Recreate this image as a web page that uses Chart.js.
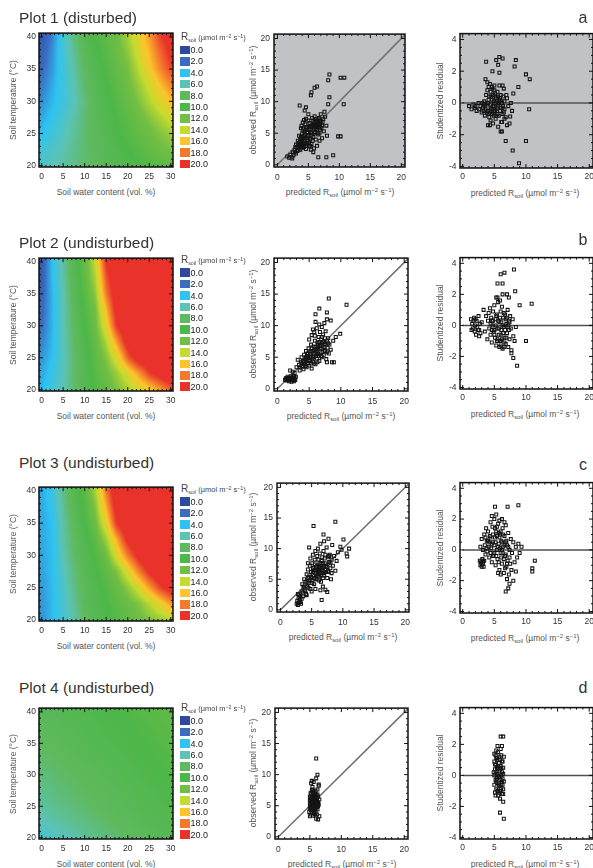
<!DOCTYPE html>
<html>
<head>
<meta charset="utf-8">
<title>Soil respiration model plots</title>
<script src="https://cdn.jsdelivr.net/npm/chart.js@4.4.1/dist/chart.umd.min.js"></script>
<style>
  html, body { margin: 0; padding: 0; }
  body { width: 593px; height: 868px; overflow: hidden; position: relative; background: #fff;
         font-family: "Liberation Sans", Arial, Helvetica, sans-serif; }
  canvas { position: absolute; }
  .txt { position: absolute; white-space: nowrap; line-height: 1; color: #555; font-size: 8.5px;
         transform: translate(-50%, -50%); }
  .rot { width: 150px; height: 10px; line-height: 10px; text-align: center; margin-left: -75px; margin-top: -5px;
         transform: rotate(-90deg); }
  .title { position: absolute; font-size: 15.5px; color: #333; line-height: 1; white-space: nowrap; transform: translateY(-50%); }
  .letter { position: absolute; font-size: 16px; color: #333; line-height: 1; transform: translate(-50%, -50%); }
  sub { font-size: 70%; vertical-align: -0.35em; line-height: 0; }
  .sw { position: absolute; width: 9.5px; height: 8.5px; }
  .lv { position: absolute; font-size: 9px; color: #222; line-height: 1; transform: translateY(-50%); }
  .lt { position: absolute; font-size: 7.5px; color: #444; white-space: nowrap; line-height: 1; transform: translateY(-50%); }
</style>
</head>
<body>
<script>
// ---- data ----
const plotTitles = ['Plot 1 (disturbed)', 'Plot 2 (undisturbed)', 'Plot 3 (undisturbed)', 'Plot 4 (undisturbed)'];
const panelLetters = ['a', 'b', 'c', 'd'];

// colour bar of the model surfaces
const levels = [0, 2, 4, 6, 8, 10, 12, 14, 16, 18, 20];
const levelLabels = ['0.0', '2.0', '4.0', '6.0', '8.0', '10.0', '12.0', '14.0', '16.0', '18.0', '20.0'];
const levelColors = ['#2d4a9c', '#3a6cc0', '#2ec3f2', '#5cc3b5', '#5fb95e', '#4db749',
                     '#73be44', '#c7db2f', '#fdc42b', '#f37a2c', '#e9322a'];

// model surface: soil water content (columns) x soil temperature (rows, 40 -> 20 degC)
const heatX = [0, 2.5, 5, 7.5, 10, 12.5, 15, 17.5, 20, 22.5, 25, 27.5, 30];
const heatT = [40, 37.5, 35, 32.5, 30, 27.5, 25, 22.5, 20];
const heat1 = [
  [1.0, 2.5, 5.0, 7.2, 8.9, 10.2, 10.9, 11.7, 13.2, 15.0, 17.0, 19.5, 21.0],
  [1.4, 2.9, 4.8, 6.7, 8.4, 9.7, 10.6, 11.5, 12.6, 14.4, 16.3, 18.4, 20.4],
  [1.8, 3.1, 4.7, 6.3, 8.0, 9.25, 10.3, 11.2, 12.0, 13.7, 15.6, 17.6, 19.3],
  [2.3, 3.45, 4.7, 6.0, 7.7, 8.9, 10.0, 10.8, 11.7, 12.9, 14.3, 16.0, 17.7],
  [2.8, 3.7, 4.7, 5.8, 7.3, 8.6, 9.6, 10.5, 11.3, 12.25, 13.5, 14.75, 16.0],
  [3.4, 4.2, 5.2, 6.25, 7.5, 8.5, 9.3, 10.1, 10.9, 11.6, 12.4, 13.4, 14.4],
  [3.9, 4.7, 5.6, 6.6, 7.6, 8.4, 9.1, 9.9, 10.5, 11.1, 11.75, 12.4, 13.0],
  [4.8, 5.5, 6.1, 6.9, 7.6, 8.2, 8.8, 9.4, 10.0, 10.6, 11.1, 11.7, 12.1],
  [5.5, 5.9, 6.4, 7.0, 7.6, 8.1, 8.6, 9.1, 9.6, 10.1, 10.4, 10.7, 11.0]
];
const heat2 = [
  [1.0, 4.0, 6.5, 9.0, 11.2, 14.0, 20.0, 22, 22, 22, 22, 22, 22],
  [1.2, 3.9, 6.3, 8.8, 11.0, 13.4, 19.0, 22, 22, 22, 22, 22, 22],
  [1.5, 3.7, 6.0, 8.5, 10.7, 12.7, 18.0, 21.5, 22, 22, 22, 22, 22],
  [1.7, 3.7, 6.0, 8.3, 10.3, 12.0, 16.3, 21.0, 22, 22, 22, 22, 22],
  [2.0, 3.7, 6.0, 8.0, 10.0, 11.7, 15.0, 20.0, 22, 22, 22, 22, 22],
  [2.5, 3.8, 5.8, 7.8, 9.6, 11.3, 13.4, 17.2, 21.0, 22, 22, 22, 22],
  [3.0, 4.0, 5.7, 7.6, 9.3, 10.9, 12.4, 14.7, 18.7, 21.2, 22, 22, 22],
  [3.4, 4.4, 5.9, 7.6, 9.1, 10.5, 11.7, 13.0, 14.7, 17.0, 19.5, 21.0, 22],
  [3.8, 4.8, 6.0, 7.7, 9.0, 10.2, 11.2, 12.2, 13.2, 14.3, 15.5, 17.0, 18.7]
];
const heat3 = [
  [3.4, 4.5, 7.0, 9.0, 10.8, 13.3, 18.0, 22, 22, 22, 22, 22, 22],
  [3.4, 4.3, 6.7, 8.7, 10.4, 12.4, 16.6, 21.1, 22, 22, 22, 22, 22],
  [3.4, 4.0, 6.4, 8.3, 10.0, 11.7, 15.0, 20.0, 22, 22, 22, 22, 22],
  [3.35, 3.95, 6.2, 8.0, 9.4, 10.9, 13.1, 16.8, 20.6, 22, 22, 22, 22],
  [3.3, 3.9, 6.0, 7.7, 9.0, 10.3, 11.7, 14.7, 18.0, 20.7, 22, 22, 22],
  [3.2, 3.9, 5.6, 7.3, 8.7, 9.8, 11.0, 12.3, 14.8, 17.7, 20.4, 22, 22],
  [3.1, 3.85, 5.3, 7.0, 8.4, 9.4, 10.4, 11.4, 12.7, 14.5, 17.0, 19.5, 21.0],
  [2.95, 3.8, 5.1, 6.7, 8.2, 9.1, 10.0, 10.8, 11.5, 12.4, 13.6, 15.2, 17.2],
  [2.8, 3.8, 5.0, 6.3, 8.0, 8.8, 9.7, 10.4, 11.0, 11.6, 12.3, 12.9, 13.5]
];
const heat4 = [
  [8.5, 8.7, 9.0, 9.2, 9.4, 9.6, 9.8, 10.0, 10.2, 10.4, 10.6, 10.8, 11.0],
  [8.3, 8.5, 8.7, 9.0, 9.2, 9.4, 9.6, 9.8, 10.0, 10.2, 10.4, 10.6, 10.8],
  [8.0, 8.2, 8.5, 8.7, 9.0, 9.2, 9.4, 9.6, 9.8, 10.0, 10.2, 10.4, 10.6],
  [7.7, 7.9, 8.1, 8.4, 8.6, 8.9, 9.1, 9.3, 9.5, 9.8, 10.0, 10.2, 10.4],
  [7.3, 7.5, 7.8, 8.0, 8.3, 8.5, 8.8, 9.0, 9.3, 9.5, 9.7, 9.9, 10.1],
  [6.9, 7.2, 7.5, 7.7, 8.0, 8.2, 8.5, 8.7, 9.0, 9.2, 9.4, 9.6, 9.9],
  [6.5, 6.8, 7.1, 7.4, 7.7, 8.0, 8.2, 8.5, 8.7, 9.0, 9.2, 9.4, 9.6],
  [5.9, 6.2, 6.5, 6.9, 7.2, 7.5, 7.8, 8.1, 8.3, 8.6, 8.9, 9.1, 9.3],
  [5.0, 5.4, 5.8, 6.2, 6.6, 7.0, 7.3, 7.6, 7.9, 8.2, 8.5, 8.8, 9.0]
];

// [predicted, observed] soil respiration
const obsPred1 = [
  [1.6,1.3],[1.9,1.1],[2.1,1.6],[2.3,1.2],[2.5,2.0],[2.6,1.5],[2.8,2.4],[3.0,1.8],[2.4,1.0],[3.1,2.7],
  [3.3,3.1],[3.4,2.3],[3.5,3.5],[3.6,2.9],[3.7,4.0],[3.8,3.2],[3.9,3.7],[4.0,2.7],[4.1,4.3],[4.2,3.0],
  [4.3,3.8],[4.4,4.8],[4.5,3.4],[4.6,2.5],[4.7,4.2],[4.8,5.2],[4.9,3.8],[5.0,4.6],[5.1,2.9],[5.2,5.6],
  [5.3,4.0],[5.4,6.0],[5.5,3.3],[5.6,5.0],[5.7,6.4],[5.8,4.4],[5.9,5.8],[6.0,6.8],[6.1,5.2],[6.2,6.2],
  [6.3,7.0],[6.4,5.6],[6.5,6.6],[6.6,4.8],[6.7,6.0],[6.8,7.2],[6.9,6.4],[7.1,5.8],[7.3,6.8],[7.5,5.3],
  [7.7,7.6],[7.9,6.2],[3.9,6.2],[4.1,6.7],[4.3,7.1],[4.5,6.4],[4.2,5.4],[4.0,5.0],[3.8,5.8],[4.6,7.3],
  [5.0,7.0],[5.2,6.6],[4.8,6.0],[5.6,7.4],[6.0,7.7],[5.4,2.4],[5.8,2.0],[5.9,2.6],[6.6,1.2],[7.9,1.2],
  [9.0,1.5],[6.4,3.0],[6.8,3.8],[7.2,4.2],[8.0,4.6],[9.8,4.5],[10.2,4.5],[3.6,9.4],[4.6,9.1],[5.4,11.0],
  [5.5,11.5],[6.0,12.2],[6.4,12.4],[8.2,13.4],[8.4,14.3],[10.2,13.8],[10.8,13.8],[8.4,10.7],[8.2,9.6],[10.7,9.6],
  [7.6,8.4],[7.0,8.0],[5.0,8.0],[4.4,8.6],[3.3,3.8],[3.0,3.2],[2.8,2.0],[3.5,4.6],[4.7,5.5],[5.3,4.2],
  [6.2,4.0],[6.8,5.0],[7.4,7.2],[3.7,3.6],[4.0,4.1],[4.4,3.2],[3.9,2.9],[4.2,3.5],[6.3,6.5],[6.6,7.0],
  [5.9,6.3],[6.9,6.9],[4.3,4.5],[3.6,3.3],[3.8,4.4],[4.0,3.3],[4.1,5.8],[4.3,2.8],[4.4,5.2],[4.5,4.2],
  [4.6,5.9],[4.7,3.0],[4.9,4.5],[5.0,5.6],[5.1,3.5],[5.2,6.2],[5.4,5.2],[5.5,4.6],[5.6,6.2],[5.7,3.8],
  [5.8,7.0],[6.0,5.0],[6.1,6.0],[6.2,7.2],[6.4,6.2],[6.5,5.0],[6.6,6.3],[6.7,7.4],[6.9,5.6],[7.0,6.8],
  [3.4,2.7],[3.2,2.2],[2.9,2.8],[3.7,2.4],[4.8,3.4],[5.3,3.0],[6.3,5.8],[7.2,6.2]
];
const obsPred2 = [
  [1.2,1.4],[1.4,1.7],[1.5,1.3],[1.6,1.9],[1.7,1.5],[1.8,1.2],[1.9,1.7],[2.0,1.4],[2.1,2.0],[2.2,1.6],
  [2.3,1.3],[2.4,1.8],[2.5,1.5],[2.6,1.2],[2.7,1.7],[2.8,1.4],[2.9,1.9],[1.3,1.6],[2.2,1.1],[2.6,2.0],
  [2.0,2.9],[2.4,2.7],[2.7,2.5],[3.0,3.4],[3.2,4.6],[3.4,3.8],[3.5,2.9],[3.7,4.2],[3.8,5.0],[3.9,3.5],
  [4.0,4.4],[4.1,3.1],[4.2,5.4],[4.3,3.9],[4.4,4.7],[4.5,6.0],[4.6,3.4],[4.7,5.2],[4.8,4.1],[4.9,6.4],
  [5.0,3.7],[5.1,5.6],[5.2,4.6],[5.3,7.0],[5.4,3.2],[5.5,5.9],[5.6,4.3],[5.7,6.7],[5.8,5.1],[5.9,7.6],
  [6.0,3.9],[6.1,6.2],[6.2,4.8],[6.3,7.3],[6.4,5.5],[6.5,8.2],[6.6,4.4],[6.7,6.8],[6.8,5.8],[6.9,7.8],
  [7.0,5.0],[7.1,6.4],[7.2,8.6],[7.3,5.4],[7.4,7.1],[7.5,6.0],[7.6,9.1],[7.7,4.7],[7.8,7.6],[7.9,6.5],
  [8.0,8.0],[8.1,5.6],[8.2,7.0],[8.4,6.2],[8.6,4.2],[5.0,7.8],[5.4,8.5],[5.8,9.0],[6.2,9.6],[6.6,10.2],
  [7.0,9.8],[7.4,10.4],[7.8,11.0],[6.0,10.6],[5.6,9.4],[8.1,14.3],[10.9,13.3],[6.6,12.7],[6.0,11.8],[7.8,12.1],
  [8.4,10.8],[9.9,8.7],[7.8,4.2],[8.9,4.2],[8.8,7.6],[9.2,8.2],[4.5,5.0],[5.2,5.0],[5.8,6.1],[6.3,6.3],
  [4.0,3.6],[4.8,4.9],[6.4,7.0],[7.0,7.2],[5.5,4.8],[4.2,4.2],[4.4,3.6],[4.6,4.5],[4.8,5.6],[5.0,4.4],
  [5.2,5.9],[5.3,4.0],[5.4,6.4],[5.6,5.0],[5.7,5.6],[5.8,4.0],[6.0,6.6],[6.1,5.2],[6.2,5.8],[6.3,4.2],
  [6.4,6.6],[6.5,5.2],[6.6,7.4],[6.8,6.4],[6.9,5.2],[7.0,8.2],[7.1,5.8],[7.2,7.4],[7.4,6.6],[7.5,8.0],
  [7.6,7.0],[7.8,5.8],[8.0,7.2],[3.6,3.4],[3.8,4.0],[5.9,8.4],[6.7,9.0],[1.5,1.5],[1.9,1.5],[2.3,1.6],
  [2.7,1.4],[2.5,1.8]
];
const obsPred3 = [
  [2.6,1.0],[2.7,1.5],[2.8,0.8],[2.9,1.9],[3.0,1.2],[3.1,1.6],[3.2,2.2],[3.3,1.0],[3.4,1.8],[2.8,2.6],
  [3.0,2.4],[3.4,3.0],[3.5,4.2],[3.6,2.8],[3.7,3.6],[3.8,5.0],[3.9,3.2],[4.0,4.6],[4.1,2.6],[4.2,5.8],
  [4.3,3.8],[4.4,6.6],[4.5,4.4],[4.6,5.4],[4.7,7.2],[4.8,3.4],[4.9,6.2],[5.0,4.8],[5.1,7.6],[5.2,5.6],
  [5.3,6.8],[5.4,4.2],[5.5,8.2],[5.6,6.0],[5.7,7.0],[5.8,5.0],[5.9,8.8],[6.0,6.4],[6.1,7.4],[6.2,5.4],
  [6.3,9.2],[6.4,6.8],[6.5,4.6],[6.6,8.0],[6.7,6.0],[6.8,7.6],[6.9,9.6],[7.0,5.6],[7.1,8.4],[7.2,6.6],
  [7.3,7.2],[7.4,10.2],[7.5,5.2],[7.6,8.6],[7.7,6.2],[7.8,7.8],[7.9,9.0],[8.0,6.8],[8.1,5.0],[8.2,8.2],
  [8.3,10.6],[8.4,7.2],[8.6,8.8],[8.8,6.4],[9.0,8.0],[9.2,9.4],[4.4,7.6],[4.8,8.4],[5.2,9.0],[5.6,9.6],
  [4.6,10.2],[6.0,10.0],[6.4,10.8],[7.0,11.2],[5.3,13.7],[8.8,14.4],[6.9,12.3],[7.7,11.6],[10.1,11.5],[11.0,10.0],
  [9.6,10.3],[10.7,8.7],[10.6,9.2],[9.8,9.8],[6.6,1.6],[6.4,3.2],[7.5,2.9],[7.2,3.3],[6.8,3.8],[5.6,3.4],
  [4.2,2.4],[5.0,3.0],[6.1,6.1],[5.5,6.5],[6.6,6.6],[5.9,5.8],[6.3,7.0],[7.0,7.0],[5.2,6.2],[6.8,5.2],
  [6.2,4.8],[4.5,3.6],[4.7,4.8],[4.9,5.4],[5.1,4.4],[5.2,6.8],[5.4,5.2],[5.5,7.4],[5.6,5.0],[5.8,6.6],
  [5.9,7.2],[6.0,5.6],[6.1,8.2],[6.2,6.6],[6.3,6.0],[6.4,7.6],[6.5,5.6],[6.6,7.2],[6.7,8.6],[6.8,6.4],
  [6.9,7.0],[7.0,6.0],[7.1,7.6],[7.2,9.0],[7.3,6.2],[7.5,7.0],[7.6,6.4],[7.8,8.8],[8.0,7.6],[8.2,6.0],
  [3.6,2.2],[3.8,3.8],[4.0,3.0],[3.2,1.3],[2.9,1.1],[4.2,4.6],[4.4,5.2]
];
const obsPred4 = [
  [4.9,4.0],[5.0,5.2],[5.0,6.4],[5.0,4.6],[5.1,3.6],[5.1,5.8],[5.1,7.0],[5.2,4.3],[5.2,5.5],[5.2,6.8],
  [5.3,3.9],[5.3,5.0],[5.3,6.1],[5.3,7.4],[5.4,4.6],[5.4,5.7],[5.4,6.5],[5.5,3.4],[5.5,4.9],[5.5,6.0],
  [5.5,7.2],[5.6,4.2],[5.6,5.3],[5.6,6.6],[5.7,3.8],[5.7,5.9],[5.7,7.0],[5.8,4.5],[5.8,5.4],[5.8,6.3],
  [5.9,4.0],[5.9,5.1],[5.9,7.4],[6.0,4.7],[6.0,5.8],[6.0,6.8],[6.1,3.6],[6.1,5.3],[6.1,6.2],[6.2,4.4],
  [6.2,5.6],[6.2,7.6],[6.3,4.9],[6.3,6.5],[6.4,5.2],[6.4,8.2],[6.5,6.0],[5.2,8.6],[5.6,8.8],[6.0,12.6],
  [6.2,10.0],[5.3,9.0],[6.4,8.4],[5.8,3.6],[6.0,2.9],[6.3,2.8],[6.5,3.3],[5.0,3.3],[5.4,8.0],[6.0,9.4],
  [5.0,5.8],[5.1,4.9],[5.2,6.2],[5.3,5.6],[5.4,5.2],[5.5,5.5],[5.6,5.8],[5.6,7.2],[5.7,4.8],[5.7,6.4],
  [5.8,5.0],[5.8,6.8],[5.9,5.6],[5.9,6.0],[6.0,5.3],[6.0,6.2],[6.1,4.8],[6.1,5.8],[6.2,5.0],[6.2,6.8],
  [6.3,5.5],[5.4,7.6],[5.2,4.8],[5.5,4.4],[5.9,4.5]
];

// [predicted, studentized residual]
const resid1 = [
  [1.0,-0.2],[1.4,-0.4],[1.7,-0.1],[1.9,-0.3],[2.2,-0.5],[2.5,0.0],[2.8,-0.2],[3.0,-0.6],[3.2,-0.3],[3.4,0.1],
  [3.5,-0.8],[3.6,-0.4],[3.7,0.5],[3.8,-0.1],[3.9,0.8],[4.0,-0.5],[4.1,0.2],[4.2,-0.9],[4.3,1.2],[4.4,-0.3],
  [4.5,0.4],[4.6,-0.7],[4.7,0.9],[4.8,-0.2],[4.9,0.1],[5.0,-0.6],[5.1,0.6],[5.2,-1.0],[5.3,0.3],[5.4,-0.4],
  [5.5,0.7],[5.6,-0.1],[5.7,-0.8],[5.8,0.2],[5.9,-0.5],[6.0,0.5],[6.1,-1.2],[6.2,0.0],[6.3,-0.3],[6.4,0.4],
  [6.5,-0.6],[6.6,0.1],[6.8,-0.9],[7.0,0.3],[7.2,-0.2],[7.4,-1.3],[7.6,0.0],[7.8,-0.5],[8.0,0.6],[3.6,1.5],
  [3.9,1.3],[4.1,1.0],[4.6,1.0],[5.0,1.1],[5.8,1.1],[6.3,1.1],[6.5,0.9],[4.0,-1.4],[4.4,-1.1],[4.8,-1.3],
  [5.6,-1.5],[6.0,-1.8],[6.2,-1.2],[6.6,-1.0],[7.0,-1.4],[7.5,-0.85],[3.7,2.6],[5.3,2.7],[5.6,2.4],[5.8,2.9],
  [5.8,1.9],[6.3,2.8],[4.7,2.0],[8.2,2.3],[8.4,2.7],[8.8,1.0],[10.0,1.8],[10.6,1.5],[10.5,-0.4],[4.3,-1.4],
  [6.2,-1.8],[6.8,-2.4],[10.0,-2.4],[7.9,-3.0],[8.9,-3.8],[2.0,-0.2],[2.6,-0.4],[3.3,-0.1],[4.5,-0.1],[5.2,0.0],
  [3.1,0.0],[4.9,-0.8],[5.5,-0.3],[6.9,0.5],[3.8,-0.6],[4.0,0.0],[4.2,0.4],[4.3,-0.6],[4.5,-0.4],[4.6,0.2],
  [4.7,-0.4],[4.8,0.5],[5.0,-0.2],[5.1,-0.5],[5.2,0.4],[5.4,0.1],[5.5,-0.7],[5.6,0.4],[5.7,0.0],[5.9,0.3],
  [6.0,-0.3],[6.1,0.1],[6.3,-0.7],[6.4,-0.2],[6.6,-0.4],[3.5,-0.2],[3.3,-0.5],[4.1,-0.7],[5.3,-0.8],[4.4,0.7],
  [5.0,0.8]
];
const resid2 = [
  [1.3,0.4],[1.5,0.1],[1.6,-0.2],[1.8,0.5],[1.9,-0.4],[2.0,0.0],[2.1,-0.6],[2.2,0.3],[2.4,-0.3],[2.5,0.6],
  [2.6,-0.7],[2.7,0.1],[2.8,-0.5],[3.0,0.2],[1.7,0.3],[2.3,-0.1],[3.3,1.0],[3.5,-0.4],[3.7,0.6],[3.9,-0.9],
  [4.0,0.3],[4.2,-0.2],[4.3,1.1],[4.4,-0.6],[4.5,0.5],[4.6,-1.1],[4.7,0.0],[4.8,0.9],[4.9,-0.4],[5.0,1.3],
  [5.1,-0.8],[5.2,0.4],[5.3,-1.3],[5.4,0.7],[5.5,-0.2],[5.6,1.5],[5.7,-0.6],[5.8,0.2],[5.9,-1.0],[6.0,0.9],
  [6.1,-0.3],[6.2,1.2],[6.3,-1.5],[6.4,0.5],[6.5,-0.1],[6.6,-0.8],[6.7,0.7],[6.8,-1.2],[6.9,0.1],[7.0,-0.5],
  [7.1,1.0],[7.2,-1.4],[7.3,0.3],[7.4,-0.9],[7.5,0.6],[7.6,-0.2],[7.7,-1.6],[7.9,0.4],[8.0,-0.7],[8.2,-1.0],
  [8.4,-0.1],[5.5,1.8],[6.3,2.0],[7.0,2.0],[7.3,1.8],[5.3,1.8],[5.9,1.6],[8.3,2.2],[5.5,2.7],[6.3,2.7],
  [6.0,3.3],[6.6,3.4],[8.1,3.6],[9.0,1.3],[10.9,1.4],[10.0,-1.0],[8.6,-2.6],[8.0,-2.1],[7.7,-1.8],[6.5,-1.4],
  [6.0,-1.3],[5.0,-0.3],[4.1,0.8],[5.8,-1.4],[6.8,0.0],[7.3,-0.3],[4.6,0.3],[4.4,0.1],[4.6,-0.3],[4.8,0.3],
  [5.0,-0.6],[5.2,0.0],[5.3,0.6],[5.5,-0.9],[5.6,0.3],[5.7,-0.2],[5.9,0.5],[6.0,-0.6],[6.1,0.2],[6.2,-0.9],
  [6.3,0.0],[6.4,-0.5],[6.5,0.8],[6.7,-0.3],[6.8,0.4],[6.9,-0.8],[7.0,0.5],[7.2,0.0],[7.4,0.2],[5.4,-1.0],
  [6.0,-1.0],[6.6,-1.1],[1.4,-0.3],[2.0,0.4],[2.6,-0.3]
];
const resid3 = [
  [2.7,-0.7],[2.8,-1.0],[2.9,-0.8],[3.0,-1.1],[3.1,-0.6],[3.2,-0.9],[3.3,-1.1],[3.4,-0.7],[3.0,-0.9],[3.2,-0.7],
  [2.8,0.2],[3.0,0.7],[3.2,0.0],[3.4,1.0],[3.5,0.3],[3.6,-0.3],[3.7,1.4],[3.8,0.6],[3.9,-0.1],[4.0,1.2],
  [4.1,0.2],[4.2,-0.5],[4.3,0.9],[4.4,1.8],[4.5,0.1],[4.6,-0.8],[4.7,1.5],[4.8,0.5],[4.9,-0.3],[5.0,2.0],
  [5.1,0.8],[5.2,-1.0],[5.3,1.2],[5.4,0.0],[5.5,-0.6],[5.6,1.7],[5.7,0.4],[5.8,-1.3],[5.9,1.0],[6.0,-0.2],
  [6.1,0.6],[6.2,-0.9],[6.3,1.4],[6.4,0.2],[6.5,-1.5],[6.6,0.9],[6.7,-0.4],[6.8,1.6],[6.9,-1.1],[7.0,0.3],
  [7.1,-0.7],[7.2,1.1],[7.3,-1.6],[7.4,0.0],[7.5,-0.9],[7.6,0.7],[7.7,-1.3],[7.8,-0.2],[8.0,0.5],[8.2,-0.8],
  [8.4,0.2],[8.6,-0.5],[8.8,0.4],[9.0,-0.2],[9.3,0.2],[5.1,2.8],[7.1,2.8],[8.8,2.9],[5.3,2.3],[6.2,2.0],
  [5.8,1.9],[4.6,2.2],[6.6,1.8],[11.4,-0.7],[11.0,-1.2],[11.0,-1.4],[6.8,-2.7],[7.2,-2.5],[7.4,-2.2],[8.0,-2.0],
  [7.0,-1.9],[6.0,-1.6],[5.6,-1.5],[8.4,-1.4],[4.4,-0.2],[5.0,0.3],[6.2,0.0],[6.8,0.5],[5.4,0.9],[4.8,-0.4],
  [4.2,0.5],[4.4,0.8],[4.6,0.4],[4.8,1.0],[5.0,-0.2],[5.2,0.5],[5.3,-0.4],[5.4,1.5],[5.6,0.2],[5.7,-0.8],
  [5.8,0.8],[5.9,0.1],[6.0,1.2],[6.1,-0.5],[6.2,0.5],[6.3,-0.2],[6.4,1.0],[6.5,-0.6],[6.6,0.3],[6.7,-1.2],
  [6.8,-0.3],[6.9,0.6],[7.0,-0.9],[7.2,0.2],[7.4,-0.5],[3.6,0.8],[3.8,0.1],[4.0,0.6],[5.1,1.4],[5.7,1.1]
];
const resid4 = [
  [4.9,0.2],[5.0,-0.6],[5.0,0.9],[5.1,-1.1],[5.1,0.4],[5.2,1.3],[5.2,-0.3],[5.3,0.7],[5.3,-0.9],[5.4,0.1],
  [5.4,1.1],[5.5,-0.5],[5.5,0.5],[5.6,-1.3],[5.6,1.5],[5.7,-0.1],[5.7,0.8],[5.8,-0.7],[5.8,0.3],[5.9,1.0],
  [5.9,-1.0],[6.0,-0.3],[6.0,0.6],[6.1,1.3],[6.1,-0.6],[6.2,0.2],[6.2,-1.2],[6.3,0.9],[6.3,-0.2],[6.4,0.5],
  [6.4,-0.9],[6.5,-0.4],[6.5,1.2],[5.0,1.4],[5.3,1.6],[6.0,1.7],[6.2,1.9],[5.5,1.9],[6.0,2.5],[6.4,2.5],
  [5.2,-1.3],[5.9,-1.5],[6.4,-1.2],[6.4,-1.7],[5.9,-2.4],[6.5,-2.8],[5.6,0.0],[5.8,-0.1],[6.1,0.0],[5.4,-0.2],
  [5.0,0.0],[5.1,0.7],[5.2,0.2],[5.3,-0.4],[5.4,0.5],[5.5,1.0],[5.6,0.6],[5.7,-0.6],[5.8,1.2],[5.9,0.4],
  [6.0,-0.8],[6.1,0.5],[6.2,0.9],[6.3,-0.6],[6.4,0.1],[5.5,-1.0],[5.8,-1.1],[6.1,-1.0],[5.3,1.1],[6.2,-0.4]
];

const oneToOne = [0, 20.5];
const zeroLineX = [0, 20.6];

const heatXTicks = [0, 5, 10, 15, 20, 25, 30];
const heatYTicks = [20, 25, 30, 35, 40];
const predTicks = [0, 5, 10, 15, 20];
const obsTicks = [0, 5, 10, 15, 20];
const residTicks = [-4, -2, 0, 2, 4];

const heats = [heat1, heat2, heat3, heat4];
const obsPreds = [obsPred1, obsPred2, obsPred3, obsPred4];
const resids = [resid1, resid2, resid3, resid4];

// ---- layout (page pixels) ----
const heatFrames = [[39, 33, 134, 134], [39, 258, 134, 133], [39, 487, 134, 134], [39, 708, 134, 131]];
const scatFrames = [[274, 33, 131, 134], [274, 257, 134, 134], [277, 482, 132, 130], [275, 707, 133, 132]];
const resFrames  = [[460, 33, 133, 135], [460, 257, 133, 132], [460, 482, 133, 131], [460, 707, 133, 132]];
const titleY = [18, 242.5, 463, 688];
const letterY = [18, 240, 465, 688];
const legendTitleY = [37.3, 260, 489.3, 708.3];
const legendFirstY = [50, 272.7, 501.7, 720.7];

Chart.defaults.font.family = '"Liberation Sans", Arial, Helvetica, sans-serif';
Chart.defaults.font.size = 8.5;
Chart.defaults.color = '#333';

function hexRgb(h) {
  return [parseInt(h.slice(1, 3), 16), parseInt(h.slice(3, 5), 16), parseInt(h.slice(5, 7), 16)];
}
const levelRgb = levelColors.map(hexRgb);

function colorFor(v) {
  v = Math.min(Math.max(v, levels[0]), levels[levels.length - 1]);
  let k = 0;
  while (k < levels.length - 2 && v > levels[k + 1]) k++;
  const f = (v - levels[k]) / (levels[k + 1] - levels[k]);
  const a = levelRgb[k], b = levelRgb[k + 1];
  return [a[0] + (b[0] - a[0]) * f, a[1] + (b[1] - a[1]) * f, a[2] + (b[2] - a[2]) * f];
}

function sampleGrid(g, wx, t) {
  wx = Math.min(Math.max(wx, heatX[0]), heatX[heatX.length - 1]);
  t = Math.min(Math.max(t, heatT[heatT.length - 1]), heatT[0]);
  let i = 0;
  while (i < heatX.length - 2 && wx > heatX[i + 1]) i++;
  let j = 0;
  while (j < heatT.length - 2 && t < heatT[j + 1]) j++;
  const fx = (wx - heatX[i]) / (heatX[i + 1] - heatX[i]);
  const ft = (heatT[j] - t) / (heatT[j] - heatT[j + 1]);
  const top = g[j][i] + (g[j][i + 1] - g[j][i]) * fx;
  const bot = g[j + 1][i] + (g[j + 1][i + 1] - g[j + 1][i]) * fx;
  return top + (bot - top) * ft;
}

// paints the model surface inside the chart area, through the chart's scales
const heatPlugin = {
  id: 'heat',
  beforeDatasetsDraw(chart, args, opts) {
    if (!opts.grid) return;
    const { ctx, chartArea: a, scales: { x, y } } = chart;
    const w = Math.round(a.right - a.left), h = Math.round(a.bottom - a.top);
    const off = document.createElement('canvas');
    off.width = w; off.height = h;
    const octx = off.getContext('2d');
    const img = octx.createImageData(w, h);
    for (let r = 0; r < h; r++) {
      const t = y.getValueForPixel(a.top + r + 0.5);
      for (let c = 0; c < w; c++) {
        const wx = x.getValueForPixel(a.left + c + 0.5);
        const col = colorFor(sampleGrid(opts.grid, wx, t));
        const p = (r * w + c) * 4;
        img.data[p] = col[0]; img.data[p + 1] = col[1]; img.data[p + 2] = col[2]; img.data[p + 3] = 255;
      }
    }
    octx.putImageData(img, 0, 0);
    ctx.drawImage(off, a.left, a.top);
  }
};

// background, box and inward tick marks on all four sides
const framePlugin = {
  id: 'frame',
  beforeDraw(chart, args, o) {
    if (!o.bg) return;
    const { ctx, chartArea: a } = chart;
    ctx.save();
    ctx.fillStyle = o.bg;
    ctx.fillRect(a.left, a.top, a.width, a.height);
    ctx.restore();
  },
  afterDraw(chart, args, o) {
    const { ctx, chartArea: a, scales } = chart;
    const marks = (scale, major, minor, cb) => {
      const n0 = Math.ceil(scale.min / minor - 1e-6), n1 = Math.floor(scale.max / minor + 1e-6);
      for (let n = n0; n <= n1; n++) {
        const v = n * minor;
        const isMajor = Math.abs(v / major - Math.round(v / major)) < 1e-6;
        cb(scale.getPixelForValue(v), isMajor ? 4 : 2);
      }
    };
    ctx.save();
    ctx.strokeStyle = '#111';
    ctx.lineWidth = 1;
    ctx.beginPath();
    marks(scales.x, o.x[0], o.x[1], (p, len) => {
      ctx.moveTo(p, a.bottom); ctx.lineTo(p, a.bottom - len);
      ctx.moveTo(p, a.top); ctx.lineTo(p, a.top + len);
    });
    marks(scales.y, o.y[0], o.y[1], (p, len) => {
      ctx.moveTo(a.left, p); ctx.lineTo(a.left + len, p);
      ctx.moveTo(a.right, p); ctx.lineTo(a.right - len, p);
    });
    ctx.stroke();
    ctx.lineWidth = 1.5;
    ctx.strokeRect(a.left, a.top, a.width, a.height);
    ctx.restore();
  }
};

// margin = [top, right, bottom, left] around the frame
function panel(frame, margin, xr, yr, xTicks, yTicks, pads, datasets, frameOpts, heatOpts) {
  const [L, T, W, H] = frame;
  const cv = document.createElement('canvas');
  cv.width = margin[3] + W + margin[1];
  cv.height = margin[0] + H + margin[2];
  cv.style.left = (L - margin[3]) + 'px';
  cv.style.top = (T - margin[0]) + 'px';
  document.body.appendChild(cv);
  const axis = (r, ticks, pad, fit) => ({
    type: 'linear', min: r[0], max: r[1],
    grid: { display: false, drawTicks: false },
    border: { display: false },
    ticks: { padding: pad, color: '#333', autoSkip: false, maxRotation: 0, callback: v => String(v) },
    afterBuildTicks: s => { s.ticks = ticks.map(v => ({ value: v })); },
    afterFit: fit
  });
  return new Chart(cv, {
    type: 'scatter',
    data: { datasets },
    options: {
      animation: false, responsive: false, devicePixelRatio: 1, events: [],
      layout: { padding: { top: margin[0], right: margin[1], bottom: 0, left: 0 } },
      plugins: { legend: { display: false }, tooltip: { enabled: false }, frame: frameOpts, heat: heatOpts || {} },
      scales: {
        x: axis(xr, xTicks, pads[0], s => { s.height = margin[2]; }),
        y: axis(yr, yTicks, pads[1], s => { s.width = margin[3]; })
      }
    },
    plugins: [framePlugin, heatPlugin]
  });
}

function pointsSet(arr) {
  return {
    data: arr.map(([x, y]) => ({ x, y })),
    pointStyle: 'rect', pointRadius: 2.1, borderWidth: 1.05,
    borderColor: '#141414', backgroundColor: 'rgba(0,0,0,0)'
  };
}
function lineSet(xs, ys, color) {
  return {
    data: xs.map((x, i) => ({ x, y: ys[i] })), showLine: true, pointRadius: 0,
    borderColor: color, borderWidth: 1.5
  };
}

function addDiv(cls, html, x, y, extra) {
  const d = document.createElement('div');
  d.className = cls;
  d.innerHTML = html;
  d.style.left = x + 'px';
  d.style.top = y + 'px';
  if (extra) Object.assign(d.style, extra);
  document.body.appendChild(d);
  return d;
}

const sup = s => '<sup style="font-size:70%;vertical-align:0.45em;line-height:0">' + s + '</sup>';
const units = '(µmol m' + sup('−2') + ' s' + sup('−1') + ')';

for (let r = 0; r < 4; r++) {
  const bg = r === 0 ? '#c1c2c5' : null;

  panel(heatFrames[r], [8, 8, 16, 39], [-0.6, 30.5], [19.8, 40.6], heatXTicks, heatYTicks, [4.5, 3], [],
        { x: [5, 1], y: [5, 1] }, { grid: heats[r] });

  panel(scatFrames[r], [8, 10, 18, 24], [-0.55, 20.6], [-0.35, 20.7], predTicks, obsTicks, [5.5, 4],
        [pointsSet(obsPreds[r]), lineSet(oneToOne, oneToOne, '#707070')],
        { x: [5, 1], y: [5, 1], bg });

  panel(resFrames[r], [8, 12, 16, 22], [-0.43, 20.6], [-4.1, 4.37], predTicks, residTicks, [4, 3.5],
        [pointsSet(resids[r]), lineSet(zeroLineX, [0, 0], '#505050')],
        { x: [5, 1], y: [2, 0.5], bg });

  // titles
  addDiv('title', plotTitles[r], 19, titleY[r]);
  addDiv('letter', panelLetters[r], 583, letterY[r]);

  // colour bar legend
  addDiv('lt', '<span style="font-size:10px">R</span><sub>soil</sub> ' + units, 181, legendTitleY[r]);
  levels.forEach((lv, k) => {
    const cy = legendFirstY[r] + k * 11.4;
    addDiv('sw', '', 180, cy - 4.25, { background: levelColors[k] });
    addDiv('lv', levelLabels[k], 190.5, cy);
  });

  // axis titles (rotated ones use a fixed box so they land on whole pixels)
  const hf = heatFrames[r], sf = scatFrames[r], rf = resFrames[r];
  addDiv('txt rot', 'Soil temperature (°C)', 13, Math.round(hf[1] + hf[3] / 2));
  addDiv('txt', 'Soil water content (vol. %)', 106, Math.round(hf[1] + hf[3] + 25));
  addDiv('txt rot', 'observed R<sub>soil</sub> ' + units, 253, Math.round(sf[1] + sf[3] / 2));
  addDiv('txt', 'predicted R<sub>soil</sub> ' + units, Math.round(sf[0] + sf[2] / 2), Math.round(sf[1] + sf[3] + 25));
  addDiv('txt rot', 'Studentized residual', 440, Math.round(rf[1] + rf[3] / 2));
  addDiv('txt', 'predicted R<sub>soil</sub> ' + units, 525, Math.round(rf[1] + rf[3] + 25));
}
</script>
</body>
</html>
